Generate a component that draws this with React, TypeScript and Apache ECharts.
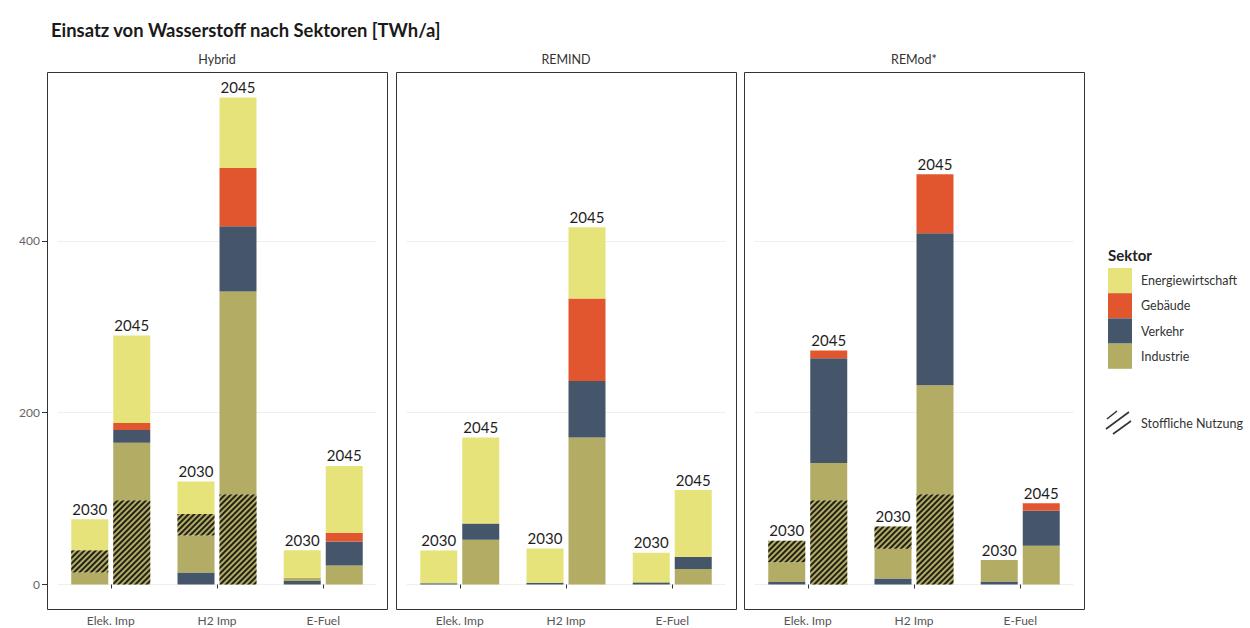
import { useEffect, useRef } from "react";
import * as echarts from "echarts";

const TITLE = "Einsatz von Wasserstoff nach Sektoren [TWh/a]";
const CATEGORIES = ["Elek. Imp", "H2 Imp", "E-Fuel"];
const SCENARIOS = ["Hybrid", "REMIND", "REMod*"];
const YEARS = ["2030", "2045"];
const Y_TICKS = [0, 200, 400];
const SEKTOREN = ["Energiewirtschaft", "Gebäude", "Verkehr", "Industrie"];

// Stack layers from bottom to top (values per category: Elek. Imp, H2 Imp, E-Fuel)
const hybrid2030 = {
  verkehrUnten: [0, 14, 4],
  stofflichUnten: [0, 0, 0],
  industrie: [14, 43, 4],
  stofflichOben: [26, 25, 0],
  verkehr: [0, 0, 0],
  gebaeude: [0, 0, 0],
  energie: [36, 38, 32],
};
const hybrid2045 = {
  verkehrUnten: [0, 0, 0],
  stofflichUnten: [98, 105, 0],
  industrie: [67, 236, 22],
  stofflichOben: [0, 0, 0],
  verkehr: [15, 76, 28],
  gebaeude: [8, 68, 10],
  energie: [102, 82, 78],
};
const remind2030 = {
  verkehrUnten: [1.5, 2, 2],
  stofflichUnten: [0, 0, 0],
  industrie: [0, 0, 1],
  stofflichOben: [0, 0, 0],
  verkehr: [0, 0, 0],
  gebaeude: [0, 0, 0],
  energie: [38, 40, 34],
};
const remind2045 = {
  verkehrUnten: [0, 0, 0],
  stofflichUnten: [0, 0, 0],
  industrie: [52, 171, 18],
  stofflichOben: [0, 0, 0],
  verkehr: [19, 66, 14],
  gebaeude: [0, 96, 0],
  energie: [100, 83, 78],
};
const remod2030 = {
  verkehrUnten: [3, 7, 3.5],
  stofflichUnten: [0, 0, 0],
  industrie: [23, 34.5, 25],
  stofflichOben: [25, 26, 0],
  verkehr: [0, 0, 0],
  gebaeude: [0, 0, 0],
  energie: [0, 0, 0],
};
const remod2045 = {
  verkehrUnten: [0, 0, 0],
  stofflichUnten: [98, 105, 0],
  industrie: [43.5, 127, 45],
  stofflichOben: [0, 0, 0],
  verkehr: [122, 177, 41],
  gebaeude: [9, 68.5, 8.6],
  energie: [0, 0, 0],
};

const DATA = [
  [hybrid2030, hybrid2045],
  [remind2030, remind2045],
  [remod2030, remod2045],
];

const COLORS: Record<string, string> = {
  Energiewirtschaft: "#e6e37a",
  "Gebäude": "#e2562f",
  Verkehr: "#46566a",
  Industrie: "#b3ac64",
};

const LAYERS = [
  { key: "verkehrUnten", sektor: "Verkehr", hatch: false },
  { key: "stofflichUnten", sektor: "Industrie", hatch: true },
  { key: "industrie", sektor: "Industrie", hatch: false },
  { key: "stofflichOben", sektor: "Industrie", hatch: true },
  { key: "verkehr", sektor: "Verkehr", hatch: false },
  { key: "gebaeude", sektor: "Gebäude", hatch: false },
  { key: "energie", sektor: "Energiewirtschaft", hatch: false },
];

const FONT = "Lato";
const PANEL_LEFT = [47, 396, 744];
const PANEL_W = 340;
const PANEL_TOP = 72;
const PANEL_BOTTOM = 609;
const ZERO_Y = 584.5;
const PX_PER_UNIT = 0.859;
const Y_MAX = (ZERO_Y - PANEL_TOP) / PX_PER_UNIT;
const INSET = PANEL_W * 0.1 / 3.2;

const HATCH = {
  symbol: "rect",
  symbolSize: 1,
  color: "rgba(25,25,20,0.95)",
  dashArrayX: [1, 0],
  dashArrayY: [1.2, 1.9],
  rotation: -Math.PI / 4,
};

export default function App() {
  const ref = useRef<HTMLDivElement>(null);
  useEffect(() => {
    if (!ref.current) return;
    const chart = echarts.init(ref.current, undefined, { renderer: "svg" });

    const grids: any[] = [];
    const xAxes: any[] = [];
    const yAxes: any[] = [];
    const series: any[] = [];
    const graphics: any[] = [];

    SCENARIOS.forEach((scen, p) => {
      grids.push({
        left: PANEL_LEFT[p] + INSET,
        width: PANEL_W - 2 * INSET,
        top: PANEL_TOP,
        bottom: 628 - ZERO_Y,
        containLabel: false,
      });
      xAxes.push({
        type: "category",
        gridIndex: p,
        data: CATEGORIES,
        offset: PANEL_BOTTOM - ZERO_Y,
        axisLine: { show: false },
        axisTick: { show: true, alignWithLabel: true, length: 4, lineStyle: { color: "#333" } },
        axisLabel: { fontFamily: FONT, fontSize: 12, color: "#555", margin: 5 },
        splitLine: { show: false },
      });
      yAxes.push({
        type: "value",
        gridIndex: p,
        min: 0,
        max: Y_MAX,
        offset: INSET,
        axisLine: { show: false },
        axisTick: {
          show: p === 0,
          length: 5,
          customValues: Y_TICKS,
          lineStyle: { color: "#333" },
        },
        axisLabel: {
          show: p === 0,
          customValues: Y_TICKS,
          fontFamily: FONT,
          fontSize: 12,
          color: "#666",
          margin: 7,
        },
        splitLine: { show: true, lineStyle: { color: "#efefef", width: 1 } },
      });

      YEARS.forEach((year, yi) => {
        const d: any = DATA[p][yi];
        const stack = `${scen}-${year}`;
        LAYERS.forEach((layer) => {
          const itemStyle: any = { color: COLORS[layer.sektor] };
          if (layer.hatch) itemStyle.decal = HATCH;
          series.push({
            type: "bar",
            name: `${scen} ${year} ${layer.key}`,
            xAxisIndex: p,
            yAxisIndex: p,
            stack,
            barWidth: 37,
            barGap: "13.5%",
            data: d[layer.key],
            itemStyle,
            silent: true,
          });
        });
        series.push({
          type: "bar",
          name: `${scen} ${year} label`,
          xAxisIndex: p,
          yAxisIndex: p,
          stack,
          barWidth: 37,
          barGap: "13.5%",
          data: CATEGORIES.map(() => 0),
          itemStyle: { color: "transparent" },
          label: {
            show: true,
            position: "top",
            distance: 3,
            formatter: year,
            fontFamily: FONT,
            fontSize: 15,
            color: "#1e1e1e",
          },
          silent: true,
        });
      });

      graphics.push({
        type: "rect",
        shape: { x: PANEL_LEFT[p] + 0.5, y: PANEL_TOP + 0.5, width: PANEL_W, height: PANEL_BOTTOM - PANEL_TOP },
        style: { fill: "none", stroke: "#333", lineWidth: 1 },
        z: 100,
        silent: true,
      });
      graphics.push({
        type: "text",
        x: PANEL_LEFT[p] + PANEL_W / 2,
        y: 59,
        style: {
          text: scen,
          fontFamily: FONT,
          fontSize: 12.5,
          fill: "#333",
          align: "center",
          verticalAlign: "middle",
        },
      });
    });

    // Legend
    const LX = 1108;
    graphics.push({
      type: "text",
      x: LX,
      y: 255,
      style: { text: "Sektor", fontFamily: FONT, fontSize: 15, fontWeight: "bold", fill: "#222", verticalAlign: "middle" },
    });
    SEKTOREN.forEach((s, i) => {
      const top = 268 + i * 25.2;
      graphics.push({
        type: "rect",
        shape: { x: LX, y: top, width: 24, height: 25.2 },
        style: { fill: COLORS[s] },
      });
      graphics.push({
        type: "text",
        x: 1141,
        y: top + 12.6,
        style: { text: s, fontFamily: FONT, fontSize: 12.5, fill: "#333", verticalAlign: "middle" },
      });
    });
    const hatchLines = [
      [1107, 419, 1117, 411],
      [1106, 429, 1129, 412],
      [1113, 434, 1131, 421],
    ];
    hatchLines.forEach(([x1, y1, x2, y2]) => {
      graphics.push({
        type: "line",
        shape: { x1, y1, x2, y2 },
        style: { stroke: "#333", lineWidth: 1.6 },
      });
    });
    graphics.push({
      type: "text",
      x: 1141,
      y: 423,
      style: { text: "Stoffliche Nutzung", fontFamily: FONT, fontSize: 12.5, fill: "#333", verticalAlign: "middle" },
    });

    chart.setOption({
      animation: false,
      backgroundColor: "#ffffff",
      title: {
        text: TITLE,
        left: 46,
        top: 16,
        textStyle: { fontFamily: FONT, fontSize: 18.4, fontWeight: "bold", color: "#1a1a1a" },
      },
      grid: grids,
      xAxis: xAxes,
      yAxis: yAxes,
      series,
      graphic: graphics,
    });
    return () => chart.dispose();
  }, []);
  return (
    <div
      ref={ref}
      style={{ position: "fixed", left: 0, top: 0, width: 1250, height: 628 }}
    />
  );
}
